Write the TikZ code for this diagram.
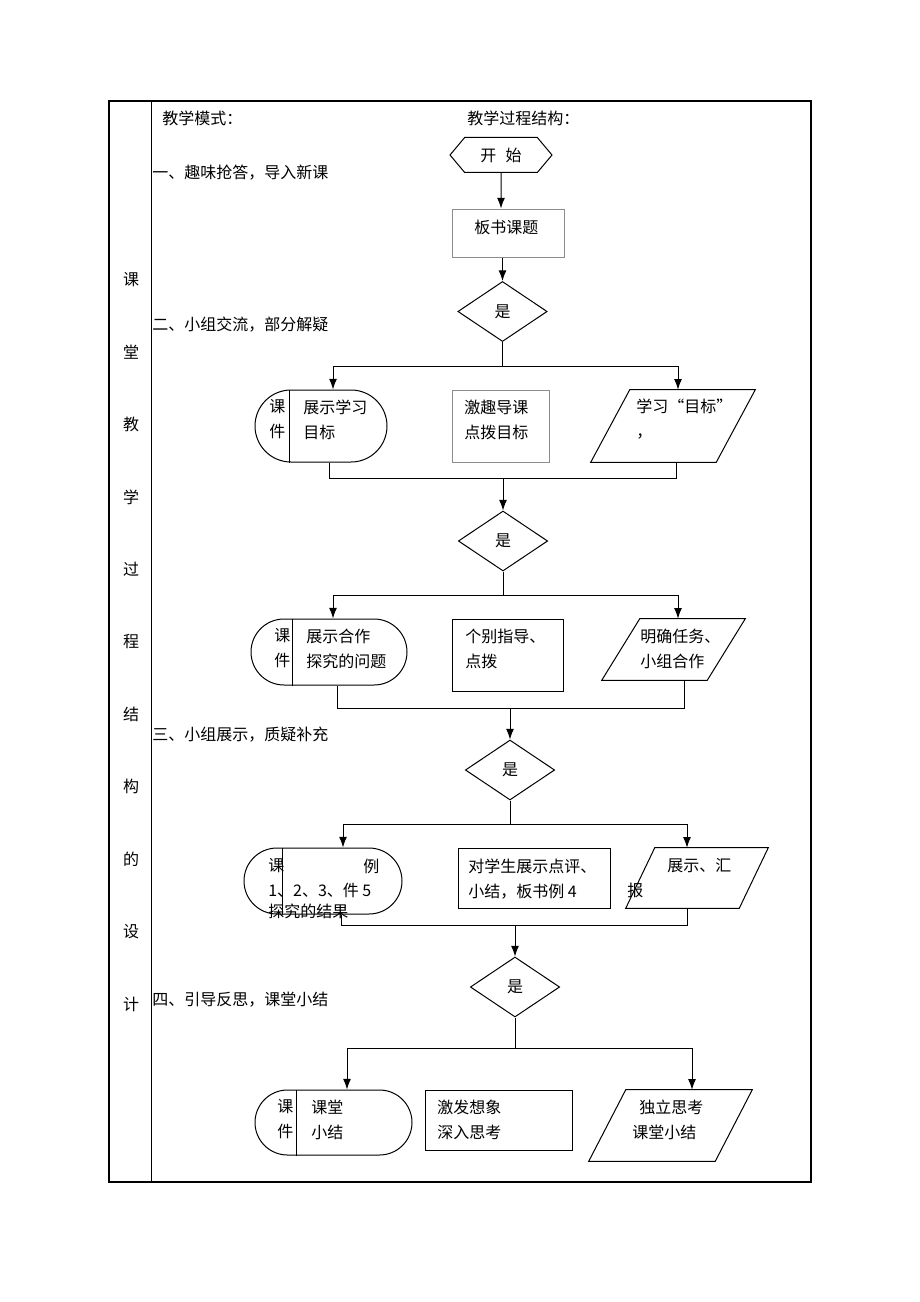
\documentclass[tikz,border=0pt]{standalone}
\usepackage{fontspec}
\setmainfont{Noto Sans CJK SC}
\usetikzlibrary{arrows.meta,calc,shapes.geometric,shapes.misc,shapes.symbols}
\tikzset{
    line/.style = {line width=0.75pt},
    block/.style = {
        draw,
        shape=rectangle,
        line width=0.75pt,
        inner sep=0pt
    },
    softblock/.style = {
        block,
        draw=black!45
    },
    decision/.style = {
        draw,
        shape=diamond,
        line width=0.75pt,
        inner sep=0pt,
        minimum width=67pt,
        minimum height=45pt
    },
    terminal/.style = {
        draw,
        shape=rounded rectangle,
        line width=0.75pt,
        inner sep=0pt
    },
    io/.style = {
        shape=rectangle,
        inner sep=0pt
    },
    hexa/.style = {
        draw,
        shape=signal,
        signal to=west and east,
        signal pointer angle=100,
        line width=0.75pt,
        inner sep=0pt
    },
    txt/.style = {
        inner sep=0pt,
        anchor=west,
        align=left,
        font=\fontsize{12}{18.75}\selectfont
    },
    >={Latex[length=8pt,width=6pt]},
}
% parallelogram over an io node: #1 node, #2 slant
\newcommand\drawio[2]{%
    \draw[line] ([xshift=#2]#1.north west) -- (#1.north east)
        -- ([xshift=-#2]#1.south east) -- (#1.south west) -- cycle;}

\begin{document}
\begin{tikzpicture}[x=0.75pt,y=-0.75pt]
    \useasboundingbox (0,0) rectangle (920,1302);

    % table
    \draw[line width=1.5pt] (109,101) rectangle (811,1182);
    \draw[line] (151,101) -- (151,1182);
    \foreach \ch [count=\i from 0] in {课,堂,教,学,过,程,结,构,的,设,计}
        \node[txt, anchor=center] (side\i) at (131,280+72.4*\i) {\ch};

    \node[txt] (mode) at (162,118) {教学模式：};
    \node[txt] (proc) at (467,118) {教学过程结构：};
    \node[txt] (step1) at (152,173) {一、趣味抢答，导入新课};
    \node[txt] (step2) at (152,325) {二、小组交流，部分解疑};
    \node[txt] (step3) at (152,735) {三、小组展示，质疑补充};
    \node[txt] (step4) at (152,1000) {四、引导反思，课堂小结};

    % start and title
    \node[hexa, minimum width=76.5pt, minimum height=26.25pt, font=\fontsize{12}{14}\selectfont] (start) at (501,155) {开\hspace{7pt}始};
    \node[softblock, minimum width=84pt, minimum height=36pt] (title) at (508,233) {};
    \node[txt] (titletxt) at (474,227) {板书课题};
    \node[decision, font=\fontsize{12}{14}\selectfont] (d1) at (502.5,311.5) {是};

    \draw[line,->] (start) -- (start |- title.north);
    \draw[line,->] (d1.north |- title.south) -- (d1.north);

    % row 1
    \coordinate (b1l) at (333,366);
    \coordinate (b1r) at (678,366);
    \coordinate (m1l) at (329,478);
    \coordinate (m1r) at (676,478);
    \node[terminal, minimum width=99pt, minimum height=54pt] (s1) at (321,426) {};
    \draw[line] (289,0 |- s1.north) -- (289,0 |- s1.south);
    \node[txt] (s1a) at (269,419.5) {课\\件};
    \node[txt] (s1b) at (303,419.5) {展示学习\\目标};
    \node[softblock, minimum width=72.75pt, minimum height=54pt] (b1) at (500.5,426) {};
    \node[txt] (b1a) at (464,419.5) {激趣导课\\点拨目标};
    \node[io, minimum width=123pt, minimum height=54pt] (p1) at (673,426) {};
    \drawio{p1}{29.25pt}
    \node[txt] (p1a) at (636,419.5) {学习“目标”\\，};

    \draw[line] (d1.south) -- (d1.south |- b1l);
    \draw[line] (b1l) -- (b1r);
    \draw[line,->] (b1l) -- (b1l |- s1.north);
    \draw[line,->] (b1r) -- (b1r |- p1.north);
    \draw[line] (m1l |- s1.south) -- (m1l) -- (m1r) -- (m1r |- p1.south);

    \node[decision, font=\fontsize{12}{14}\selectfont] (d2) at (503,541) {是};
    \draw[line,->] (d2.north |- m1l) -- (d2.north);

    % row 2
    \coordinate (b2l) at (333,595);
    \coordinate (b2r) at (678,595);
    \coordinate (m2l) at (337,708);
    \coordinate (m2r) at (684,708);
    \node[terminal, minimum width=117pt, minimum height=49.5pt] (s2) at (329,652) {};
    \draw[line] (292,0 |- s2.north) -- (292,0 |- s2.south);
    \node[txt] (s2a) at (274,648.5) {课\\件};
    \node[txt] (s2b) at (306,648.5) {展示合作\\探究的问题};
    \node[block, minimum width=83.25pt, minimum height=54pt] (b2) at (507.5,655) {};
    \node[txt] (b2a) at (465,648.5) {个别指导、\\点拨};
    \node[io, minimum width=107.25pt, minimum height=45.75pt] (p2) at (673.5,649.5) {};
    \drawio{p2}{28.5pt}
    \node[txt] (p2a) at (640,648.5) {明确任务、\\小组合作};

    \draw[line] (d2.south) -- (d2.south |- b2l);
    \draw[line] (b2l) -- (b2r);
    \draw[line,->] (b2l) -- (b2l |- s2.north);
    \draw[line,->] (b2r) -- (b2r |- p2.north);
    \draw[line] (m2l |- s2.south) -- (m2l) -- (m2r) -- (m2r |- p2.south);

    \node[decision, font=\fontsize{12}{14}\selectfont] (d3) at (510,770) {是};
    \draw[line,->] (d3.north |- m2l) -- (d3.north);

    % row 3
    \coordinate (b3l) at (343,824);
    \coordinate (b3r) at (687,824);
    \coordinate (m3l) at (341,925);
    \coordinate (m3r) at (687,925);
    \node[terminal, minimum width=118.5pt, minimum height=49.5pt] (s3) at (323,881) {};
    \draw[line] (282,0 |- s3.north) -- (282,0 |- s3.south);
    \node[txt] (s3a) at (268,866) {课};
    \node[txt] (s3b) at (363,866) {例};
    \node[txt] (s3c) at (268,890) {1、2、3、件 5};
    \node[txt] (s3d) at (268,911) {探究的结果};
    \node[block, minimum width=114pt, minimum height=45pt] (b3) at (534,878) {};
    \node[txt] (b3a) at (468,879) {对学生展示点评、\\小结，板书例 4};
    \node[io, minimum width=106.5pt, minimum height=45pt] (p3) at (697,878) {};
    \drawio{p3}{21.75pt}
    \node[txt] (p3a) at (667,866) {展示、汇};
    \node[txt] (p3b) at (627,890) {报};

    \draw[line] (d3.south) -- (d3.south |- b3l);
    \draw[line] (b3l) -- (b3r);
    \draw[line,->] (b3l) -- (b3l |- s3.north);
    \draw[line,->] (b3r) -- (b3r |- p3.north);
    \draw[line] (m3l |- s3.south) -- (m3l) -- (m3r) -- (m3r |- p3.south);

    \node[decision, font=\fontsize{12}{14}\selectfont] (d4) at (515,987) {是};
    \draw[line,->] (d4.north |- m3l) -- (d4.north);

    % row 4
    \coordinate (b4l) at (347,1048);
    \coordinate (b4r) at (692,1048);
    \node[terminal, minimum width=117.75pt, minimum height=48.75pt] (s4) at (333.5,1122.5) {};
    \draw[line] (296,0 |- s4.north) -- (296,0 |- s4.south);
    \node[txt] (s4a) at (277,1119.5) {课\\件};
    \node[txt] (s4b) at (311,1119.5) {课堂\\小结};
    \node[block, minimum width=110.25pt, minimum height=45pt] (b4) at (498.5,1120) {};
    \node[txt] (b4a) at (437,1119.5) {激发想象\\深入思考};
    \node[io, minimum width=122.25pt, minimum height=53.25pt] (p4) at (670.5,1125.5) {};
    \drawio{p4}{27.75pt}
    \node[txt] (p4a) at (639,1107) {独立思考};
    \node[txt] (p4b) at (632,1132) {课堂小结};

    \draw[line] (d4.south) -- (d4.south |- b4l);
    \draw[line] (b4l) -- (b4r);
    \draw[line,->] (b4l) -- (b4l |- s4.north);
    \draw[line,->] (b4r) -- (b4r |- p4.north);
\end{tikzpicture}
\end{document}
